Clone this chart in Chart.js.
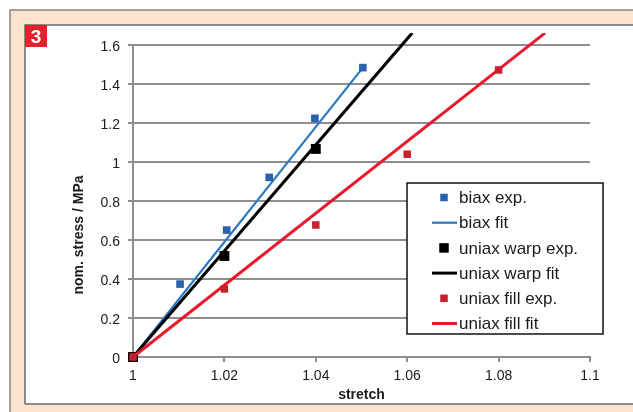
<!DOCTYPE html>
<html>
<head>
<meta charset="utf-8">
<script src="https://cdn.jsdelivr.net/npm/chart.js@4.4.0/dist/chart.umd.min.js"></script>
<style>
  html, body { margin: 0; padding: 0; background: #fff; }
  canvas { display: block; }
</style>
</head>
<body>
<canvas id="myChart" width="633" height="412"></canvas>
<script>
const biaxStretch = [1, 1.0103, 1.0205, 1.0298, 1.0398, 1.0503];
const biaxStress = [0, 0.374, 0.651, 0.921, 1.224, 1.484];
const warpStretch = [1, 1.02, 1.04];
const warpStress = [0, 0.518, 1.067];
const fillStretch = [1, 1.02, 1.04, 1.06, 1.08];
const fillStress = [0, 0.349, 0.677, 1.04, 1.472];

// fit lines, start and end point
const biaxFitStretch = [1, 1.05];
const biaxFitStress = [0, 1.475];
const warpFitStretch = [1, 1.0611];
const warpFitStress = [0, 1.662];
const fillFitStretch = [1, 1.0902];
const fillFitStress = [0, 1.662];

const xTicks = [1, 1.02, 1.04, 1.06, 1.08, 1.1];
const yTicks = [0, 0.2, 0.4, 0.6, 0.8, 1, 1.2, 1.4, 1.6];

const FONT = "'Liberation Sans', Arial, sans-serif";
const GRID = "#8e8e92";

const pts = (xs, ys) => xs.map((x, i) => ({ x: x, y: ys[i] }));
const clipBox = { left: 10, top: 12, right: 10, bottom: 10 };

Chart.defaults.font.family = FONT;

const frame = {
  id: "frame",
  beforeDraw(chart) {
    const c = chart.ctx;
    c.save();
    c.fillStyle = "#fff";
    c.fillRect(0, 0, 633, 412);
    c.fillStyle = "#fde3cd";
    c.fillRect(10, 10, 623, 402);
    c.strokeStyle = "#8a8482";
    c.lineWidth = 1.5;
    c.beginPath();
    c.moveTo(10, 412);
    c.lineTo(10, 10);
    c.lineTo(633, 10);
    c.stroke();
    c.fillStyle = "#fff";
    c.fillRect(25, 25, 608, 379);
    c.strokeStyle = "#6a6a6a";
    c.beginPath();
    c.moveTo(25, 404);
    c.lineTo(25, 25);
    c.lineTo(633, 25);
    c.moveTo(25, 404);
    c.lineTo(633, 404);
    c.stroke();
    c.restore();
  },
  afterDraw(chart) {
    const c = chart.ctx;
    const a = chart.chartArea;
    c.save();
    // badge
    c.fillStyle = "#e4202a";
    c.fillRect(25, 25, 22, 22);
    c.fillStyle = "#fff";
    c.font = "bold 19px " + FONT;
    c.textAlign = "center";
    c.textBaseline = "alphabetic";
    c.fillText("3", 36, 43);

    // axis titles
    c.fillStyle = "#1a1a1a";
    c.font = "bold 14px " + FONT;
    c.fillText("stretch", (a.left + a.right) / 2, 399);
    c.translate(83, 235);
    c.rotate(-Math.PI / 2);
    c.fillText("nom. stress / MPa", 0, 0);
    c.restore();

    // legend
    c.save();
    c.fillStyle = "#fff";
    c.fillRect(407, 183, 196, 151);
    c.strokeStyle = "#111";
    c.lineWidth = 1.5;
    c.strokeRect(407, 183, 196, 151);
    c.font = "17px " + FONT;
    c.textAlign = "left";
    c.textBaseline = "middle";
    chart.data.datasets.forEach((ds, i) => {
      const y = 197.5 + i * 25.2;
      if (ds.showLine) {
        c.strokeStyle = ds.borderColor;
        c.lineWidth = ds.borderWidth;
        c.beginPath();
        c.moveTo(432, y);
        c.lineTo(457, y);
        c.stroke();
      } else {
        const s = ds.legendSize;
        c.fillStyle = ds.backgroundColor;
        c.fillRect(444 - s / 2, y - s / 2, s, s);
      }
      c.fillStyle = "#1a1a1a";
      c.fillText(ds.label, 459, y + 1);
    });
    c.restore();
  },
};

const ctx = document.getElementById("myChart").getContext("2d");

const myChart = new Chart(ctx, {
  type: "scatter",
  data: {
    datasets: [
      {
        label: "biax exp.",
        data: pts(biaxStretch, biaxStress),
        backgroundColor: "#2b61ad",
        borderColor: "#2b61ad",
        pointStyle: "rect",
        pointRadius: 5.4,
        pointBorderWidth: 0,
        legendSize: 7.5,
        clip: clipBox,
        order: 4,
      },
      {
        label: "biax fit",
        data: pts(biaxFitStretch, biaxFitStress),
        showLine: true,
        borderColor: "#2d78c2",
        backgroundColor: "#2d78c2",
        borderWidth: 2.2,
        pointRadius: 0,
        clip: clipBox,
        order: 5,
      },
      {
        label: "uniax warp exp.",
        data: pts(warpStretch, warpStress),
        backgroundColor: "#000",
        borderColor: "#000",
        pointStyle: "rect",
        pointRadius: 7,
        pointBorderWidth: 0,
        legendSize: 9.5,
        clip: clipBox,
        order: 2,
      },
      {
        label: "uniax warp fit",
        data: pts(warpFitStretch, warpFitStress),
        showLine: true,
        borderColor: "#000",
        backgroundColor: "#000",
        borderWidth: 3,
        pointRadius: 0,
        clip: clipBox,
        order: 3,
      },
      {
        label: "uniax fill exp.",
        data: pts(fillStretch, fillStress),
        backgroundColor: "#c9202e",
        borderColor: "#c9202e",
        pointStyle: "rect",
        pointRadius: 5.3,
        pointBorderWidth: 0,
        legendSize: 7.5,
        clip: clipBox,
        order: 0,
      },
      {
        label: "uniax fill fit",
        data: pts(fillFitStretch, fillFitStress),
        showLine: true,
        borderColor: "#e8192c",
        backgroundColor: "#e8192c",
        borderWidth: 3,
        pointRadius: 0,
        clip: clipBox,
        order: 1,
      },
    ],
  },
  plugins: [frame],
  options: {
    responsive: false,
    animation: false,
    devicePixelRatio: 1,
    layout: { padding: { left: 0, top: 45, right: 43, bottom: 0 } },
    plugins: {
      legend: { display: false },
      tooltip: { enabled: false },
    },
    scales: {
      x: {
        type: "linear",
        min: 1,
        max: 1.1,
        afterBuildTicks: (axis) => {
          axis.ticks = xTicks.map((v) => ({ value: v }));
        },
        afterFit: (scale) => {
          scale.height = 55;
        },
        ticks: {
          callback: (v) => String(v),
          font: { size: 14 },
          color: "#1a1a1a",
          padding: 6,
          maxRotation: 0,
        },
        grid: {
          drawOnChartArea: false,
          color: GRID,
          lineWidth: 2,
          tickLength: 5,
        },
        border: { color: GRID, width: 2 },
      },
      y: {
        type: "linear",
        min: 0,
        max: 1.6,
        afterBuildTicks: (axis) => {
          axis.ticks = yTicks.map((v) => ({ value: v }));
        },
        afterFit: (scale) => {
          scale.width = 133;
        },
        ticks: {
          callback: (v) => String(v),
          font: { size: 14 },
          color: "#1a1a1a",
          padding: 8,
          labelOffset: 2,
        },
        grid: {
          color: GRID,
          lineWidth: 2,
          tickLength: 5,
        },
        border: { color: GRID, width: 2 },
      },
    },
  },
});
</script>
</body>
</html>
